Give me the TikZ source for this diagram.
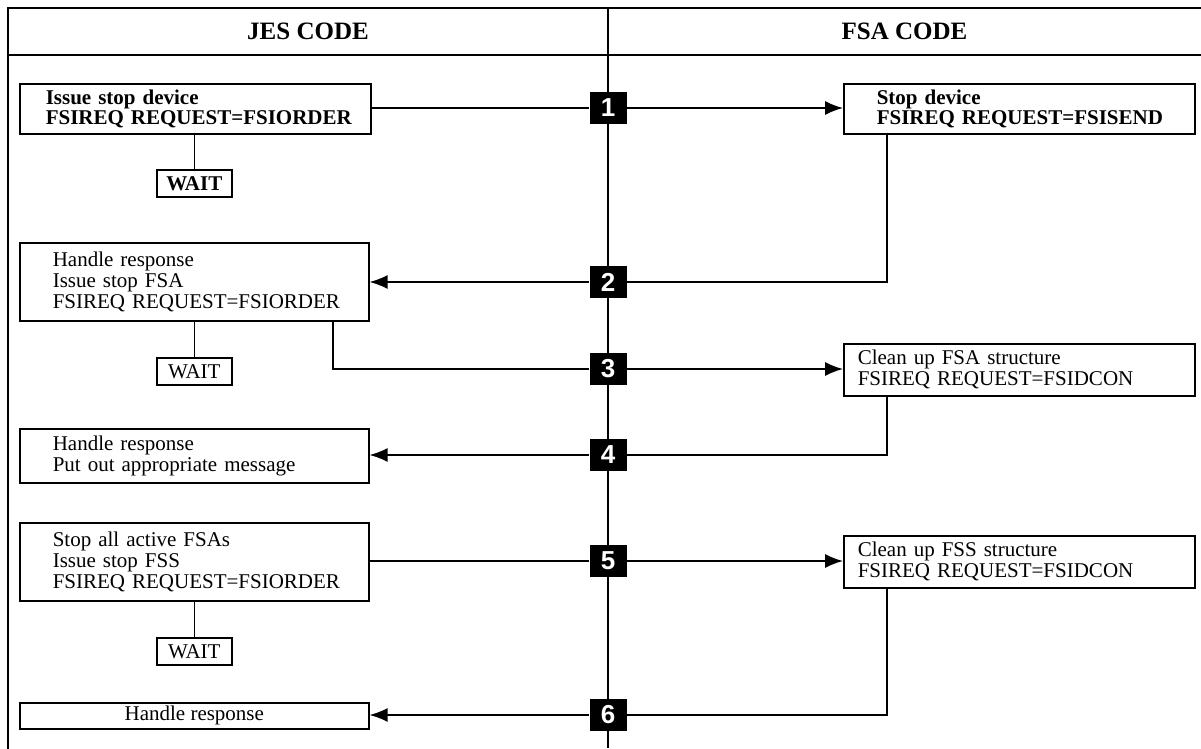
\documentclass[tikz,border=0pt]{standalone}
\usepackage{fontspec}
\setmainfont{Liberation Serif}
\newfontfamily\numfont{Liberation Sans}
\usetikzlibrary{arrows.meta,calc}
\begin{document}
\begin{tikzpicture}[x=0.5pt,y=-0.5pt,
  frame/.style={line width=1pt},
  box/.style={draw, line width=0.8pt, anchor=north west, align=left, inner ysep=0pt,
    font=\fontsize{10.5}{10.6}\selectfont},
  bbox/.style={box, font=\fontsize{10.5}{10}\selectfont\bfseries},
  waitbox/.style={draw, line width=0.8pt, anchor=north west, minimum width=37.5pt, minimum height=13.5pt, inner sep=0pt},
  num/.style={fill=black, text=white, minimum width=18.5pt, minimum height=16pt, inner sep=0pt,
    font=\numfont\bfseries\fontsize{13}{13}\selectfont},
  head/.style={font=\fontsize{12.5}{12.5}\selectfont\bfseries},
  conn/.style={line width=0.75pt},
  arr/.style={conn, -{Latex[length=9pt,width=7pt]}}
]
\useasboundingbox (0,0) rectangle (1201,749);
% frame
\draw[frame] (1201,8) -- (8,8) -- (8,749);
\draw[frame] (8,55) -- (1201,55);
\draw[frame] (608,8) -- (608,748);
\node[head] (jes) at (308,31) {JES CODE};
\node[head] (fsa) at (904.5,31) {FSA CODE};
% JES boxes
\node[bbox, inner xsep=13pt, text width=149.5pt, minimum height=25pt] (b1) at (19,83)
  {\mbox{Issue stop device}\\\mbox{FSIREQ REQUEST=FSIORDER}};
\node[waitbox, font=\fontsize{10.5}{10.5}\selectfont\bfseries] (w1) at (156,169) {WAIT};
\node[box, inner xsep=16.5pt, text width=141.5pt, minimum height=39pt] (b2) at (19,242)
  {\mbox{Handle response}\\\mbox{Issue stop FSA}\\\mbox{FSIREQ REQUEST=FSIORDER}};
\node[waitbox, font=\fontsize{10.5}{10.5}\selectfont] (w2) at (156,357) {WAIT};
\node[box, inner xsep=16.5pt, text width=141.5pt, minimum height=27pt] (b4) at (19,428)
  {\mbox{Handle response}\\\mbox{Put out appropriate message}};
\node[box, inner xsep=16.5pt, text width=141.5pt, minimum height=39pt] (b5) at (19,522)
  {\mbox{Stop all active FSAs}\\\mbox{Issue stop FSS}\\\mbox{FSIREQ REQUEST=FSIORDER}};
\node[waitbox, font=\fontsize{10.5}{10.5}\selectfont] (w3) at (156,637) {WAIT};
\node[box, align=center, inner xsep=0pt, minimum width=174.5pt, minimum height=13pt] (b6) at (19,702)
  {Handle response};
% FSA boxes
\node[bbox, inner xsep=16.5pt, text width=142.5pt, minimum height=25pt] (f1) at (843,83)
  {\mbox{Stop device}\\\mbox{FSIREQ REQUEST=FSISEND}};
\node[box, inner xsep=7pt, text width=161.5pt, minimum height=26pt] (f2) at (843,343)
  {\mbox{Clean up FSA structure}\\\mbox{FSIREQ REQUEST=FSIDCON}};
\node[box, inner xsep=7pt, text width=161.5pt, minimum height=26pt] (f3) at (843,535)
  {\mbox{Clean up FSS structure}\\\mbox{FSIREQ REQUEST=FSIDCON}};
% step numbers
\node[num] (s1) at (608,108) {1};
\node[num] (s2) at (608,282) {2};
\node[num] (s3) at (608,369) {3};
\node[num] (s4) at (608,455) {4};
\node[num] (s5) at (608,561) {5};
\node[num] (s6) at (608,715) {6};
% connectors
\draw[conn] (s1.west -| b1.east) -- (s1.west);
\draw[arr] (s1.east) -- (s1.east -| f1.west);
\draw[conn] (b1.south -| w1.north) -- (w1.north);
\coordinate (f1s) at ($(f1.south west)+(44,0)$);
\draw[conn] (f1s) |- (s2.east);
\draw[arr] (s2.west) -- (s2.west -| b2.east);
\draw[conn] (b2.south -| w2.north) -- (w2.north);
\coordinate (b2s) at ($(b2.south west)+(314,0)$);
\draw[conn] (b2s) |- (s3.west);
\draw[arr] (s3.east) -- (s3.east -| f2.west);
\coordinate (f2s) at ($(f2.south west)+(44,0)$);
\draw[conn] (f2s) |- (s4.east);
\draw[arr] (s4.west) -- (s4.west -| b4.east);
\draw[conn] (s5.west -| b5.east) -- (s5.west);
\draw[arr] (s5.east) -- (s5.east -| f3.west);
\draw[conn] (b5.south -| w3.north) -- (w3.north);
\coordinate (f3s) at ($(f3.south west)+(44,0)$);
\draw[conn] (f3s) |- (s6.east);
\draw[arr] (s6.west) -- (s6.west -| b6.east);
\end{tikzpicture}
\end{document}
